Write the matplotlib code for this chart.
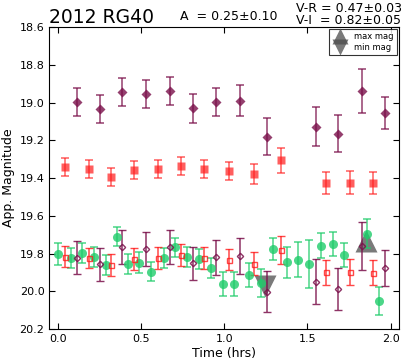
import matplotlib
matplotlib.use('Agg')
import matplotlib.pyplot as plt

# R band (filled red squares) and its V-R shifted copy (open squares)
t_r = [0.042, 0.186, 0.320, 0.456, 0.600, 0.740, 0.878, 1.030, 1.178, 1.343, 1.610, 1.754, 1.892]
mag_r = [19.342, 19.351, 19.392, 19.357, 19.350, 19.335, 19.350, 19.362, 19.379, 19.305, 19.425, 19.425, 19.427]
err_r = [0.048, 0.047, 0.048, 0.048, 0.048, 0.048, 0.048, 0.049, 0.053, 0.066, 0.057, 0.061, 0.058]
mag_r_shift = [19.816, 19.824, 19.861, 19.830, 19.824, 19.808, 19.824, 19.833, 19.853, 19.780, 19.899, 19.899, 19.902]
err_r_shift = [0.056, 0.053, 0.057, 0.057, 0.058, 0.058, 0.057, 0.056, 0.063, 0.073, 0.065, 0.068, 0.066]

# I band (filled purple diamonds) and its V-I shifted copy (open diamonds)
t_i = [0.114, 0.254, 0.388, 0.528, 0.672, 0.812, 0.954, 1.098, 1.259, 1.549, 1.685, 1.829, 1.965]
mag_i = [18.998, 19.035, 18.943, 18.955, 18.940, 19.030, 18.998, 18.991, 19.180, 19.127, 19.166, 18.938, 19.056]
err_i = [0.073, 0.074, 0.074, 0.074, 0.074, 0.077, 0.074, 0.082, 0.097, 0.105, 0.098, 0.118, 0.085]
mag_i_shift = [19.821, 19.856, 19.763, 19.777, 19.763, 19.851, 19.819, 19.812, 20.001, 19.948, 19.987, 19.759, 19.877]
err_i_shift = [0.089, 0.088, 0.090, 0.090, 0.090, 0.088, 0.092, 0.095, 0.108, 0.117, 0.110, 0.127, 0.095]

# V band (green circles)
t_v = [0.002, 0.078, 0.146, 0.218, 0.288, 0.356, 0.422, 0.488, 0.562, 0.636, 0.706, 0.776, 0.848, 0.918,
       0.993, 1.062, 1.147, 1.219, 1.292, 1.379, 1.445, 1.511, 1.581, 1.655, 1.721, 1.855, 1.927]
mag_v = [19.802, 19.824, 19.798, 19.817, 19.860, 19.710, 19.855, 19.848, 19.895, 19.824, 19.766, 19.817, 19.828, 19.877,
         19.961, 19.962, 19.913, 19.957, 19.777, 19.846, 19.833, 19.856, 19.758, 19.749, 19.807, 19.696, 20.051]
err_v = [0.058, 0.053, 0.053, 0.053, 0.053, 0.051, 0.053, 0.056, 0.051, 0.053, 0.051, 0.053, 0.053, 0.053,
         0.064, 0.063, 0.062, 0.073, 0.058, 0.081, 0.092, 0.126, 0.065, 0.066, 0.065, 0.077, 0.075]

# light-curve extremes
t_max, mag_max = 1.849, 19.733
t_min, mag_min = 1.243, 19.973

purple = '#7a0f4a'
red = '#ff1a1a'
green = '#1fcc6a'

fig = plt.figure(figsize=(4.01, 3.62), dpi=100)
ax = fig.add_axes([0.123, 0.091, 0.872, 0.834])

# extremes sit under the data points
ax.plot([t_max], [mag_max], '^', ms=16, color='0.3', alpha=0.75, mec='none', label='max mag', zorder=1)
ax.plot([t_min], [mag_min], 'v', ms=16, color='0.3', alpha=0.75, mec='none', label='min mag', zorder=1)

eb = dict(linestyle='none', capsize=2.9, elinewidth=1.1, capthick=1.1)
ax.errorbar(t_i, mag_i, yerr=err_i, fmt='D', ms=5.6, color=purple, alpha=0.8, mec='none', **eb)
ax.errorbar(t_r, mag_r, yerr=err_r, fmt='s', ms=5.8, color=red, alpha=0.7, mec='none', **eb)
ax.errorbar(t_v, mag_v, yerr=err_v, fmt='o', ms=6.5, color=green, alpha=0.8, mec='none', **eb)
ax.errorbar(t_r, mag_r_shift, yerr=err_r_shift, fmt='s', ms=3.6, color=red, mfc='none', mew=1.0, alpha=0.8, **eb)
ax.errorbar(t_i, mag_i_shift, yerr=err_i_shift, fmt='D', ms=3.2, color=purple, mfc='none', mew=1.0, alpha=0.85, **eb)

ax.set_xlim(-0.05, 2.05)
ax.set_ylim(20.2, 18.6)
ax.set_xticks([0.0, 0.5, 1.0, 1.5, 2.0])
ax.set_yticks([18.6, 18.8, 19.0, 19.2, 19.4, 19.6, 19.8, 20.0, 20.2])
ax.tick_params(direction='in', top=True, right=True, labelsize=8, length=4)
ax.set_xlabel('Time (hrs)', fontsize=9, labelpad=2)
ax.set_ylabel('App. Magnitude', fontsize=9, labelpad=3)

leg = ax.legend(loc='upper right', fontsize=6, numpoints=1, markerscale=0.72, frameon=True,
                fancybox=False, edgecolor='black', borderpad=0.35, handletextpad=0.7,
                labelspacing=0.2, borderaxespad=0.25)
leg.get_frame().set_linewidth(0.8)

fig.text(0.123, 0.937, '2012 RG40', fontsize=13.5)
fig.text(0.449, 0.945, 'A  = 0.25\u00b10.10', fontsize=9)
fig.text(0.738, 0.968, 'V-R = 0.47\u00b10.03', fontsize=9)
fig.text(0.738, 0.935, 'V-I  = 0.82\u00b10.05', fontsize=9)

plt.savefig('out.png', dpi=100)
